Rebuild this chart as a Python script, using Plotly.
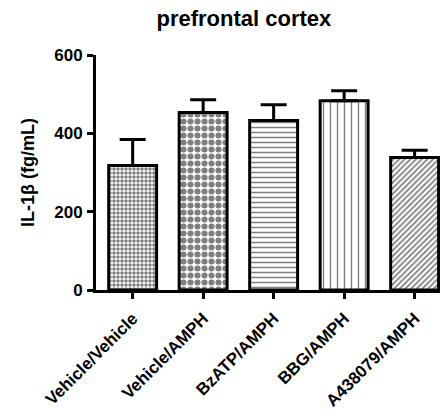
import plotly.graph_objects as go

# IL-1β levels in prefrontal cortex, mean ± SEM (upper bar only)
groups = ["Vehicle/Vehicle", "Vehicle/AMPH", "BzATP/AMPH", "BBG/AMPH", "A438079/AMPH"]
means = [318, 453, 433, 483, 338]
sems = [66, 33, 40, 26, 19]

# fill pattern of each bar: (shape, tile size, solidity)
patterns = [(".", 4, 0.62), (".", 7, 0.6), ("-", 5, 0.3), ("|", 7, 0.2), ("/", 4, 0.45)]

FONT = "Liberation Sans, Arial, sans-serif"

fig = go.Figure()
for i, g in enumerate(groups):
    shape, size, sol = patterns[i]
    fig.add_trace(go.Bar(
        x=[g], y=[means[i]],
        width=0.68,
        marker=dict(
            color="white",
            line=dict(color="black", width=3),
            pattern=dict(shape=shape, size=size, solidity=sol,
                         fgcolor="black", bgcolor="white", fillmode="overlay"),
        ),
        error_y=dict(type="data", symmetric=False, array=[sems[i]], arrayminus=[0],
                     color="black", thickness=3, width=13),
        showlegend=False,
    ))

fig.update_layout(
    width=448, height=416,
    margin=dict(l=96, r=8, t=55, b=126),
    plot_bgcolor="white", paper_bgcolor="white",
    title=dict(text="<b>prefrontal cortex</b>", x=0.43, xref="paper", xanchor="center",
               y=0.955, yref="container", yanchor="middle",
               font=dict(family=FONT, size=22, color="black")),
    font=dict(family=FONT, color="black"),
)
fig.update_xaxes(
    type="category", range=[-0.52, 4.36], automargin=False,
    showline=True, linecolor="black", linewidth=3,
    ticks="outside", ticklen=6, tickwidth=3, tickcolor="black",
    ticklabelstandoff=3,
    tickangle=-45, tickfont=dict(family=FONT, size=17, color="black", weight="bold"),
    showgrid=False, zeroline=False,
)
fig.update_yaxes(
    range=[0, 600], tickvals=[0, 200, 400, 600], automargin=False,
    showline=True, linecolor="black", linewidth=3,
    ticks="outside", ticklen=6, tickwidth=3, tickcolor="black",
    ticklabelstandoff=1,
    tickfont=dict(family=FONT, size=17, color="black", weight="bold"),
    showgrid=False, zeroline=False,
    title=dict(text="<b>IL-1β (fg/mL)</b>", standoff=15,
               font=dict(family=FONT, size=18, color="black")),
)

fig.write_html("out.html")
